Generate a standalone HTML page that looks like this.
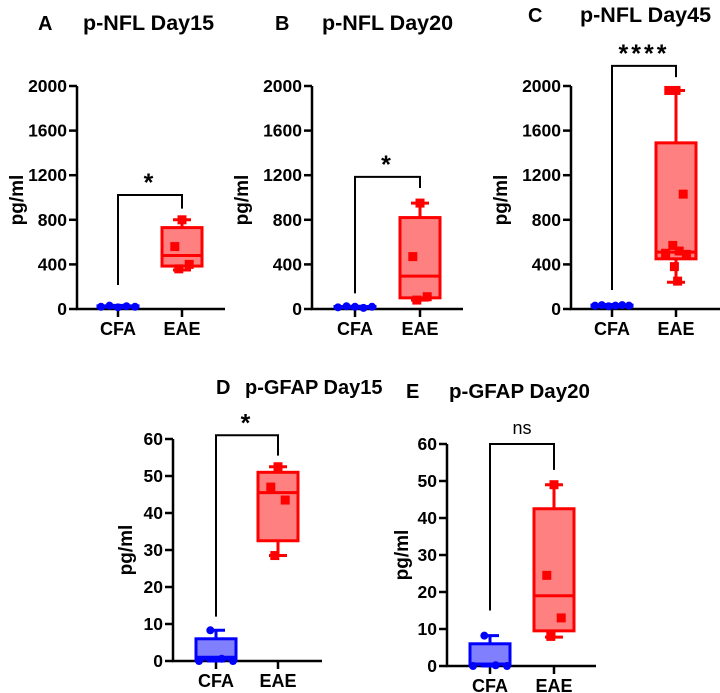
<!DOCTYPE html>
<html><head><meta charset="utf-8"><style>
body{margin:0;background:#fff;}
svg{display:block;font-family:"Liberation Sans",Arial,sans-serif;font-weight:bold;}
</style></head><body>
<svg id="fig" width="720" height="693" viewBox="0 0 720 693" xmlns="http://www.w3.org/2000/svg"></svg>
<script>
// ---- data ----
const categories = ["CFA","EAE"];
const nflTicks = [0,400,800,1200,1600,2000];
const gfapTicks = [0,10,20,30,40,50,60];
// box stats: [min, q1, median, q3, max]
const aCFA = [15,18,22,28,32];  const aCFApts = [20,30,15,25,20];
const aEAE = [350,385,480,730,800]; const aEAEpts = [800,560,400,360];
const bCFA = [10,14,18,22,25];  const bCFApts = [15,25,20,10,20];
const bEAE = [80,100,295,820,950]; const bEAEpts = [950,470,110,80];
const cCFA = [20,25,30,35,40];  const cCFApts = [30,35,25,30,35,30];
const cEAE = [240,450,510,1490,1960]; const cEAEpts = [1960,1960,1030,570,520,500,490,380,250];
const dCFA = [0,0.5,1,6,8.3]; const dCFApts = [0,8.3,0.6,0];
const dEAE = [28.5,32.5,45.5,51,52.5]; const dEAEpts = [52.5,47,43.5,28.5];
const eCFA = [0,0.5,0.5,6,8.2]; const eCFApts = [0,8.2,0.2,0];
const eEAE = [7.8,9.5,19,42.5,49]; const eEAEpts = [49,24.5,13,8];
const sigLabels = ["*","*","****","*","ns"];

const panels = [
 {id:"a",letter:"A",title:"p-NFL Day15",lx:38,tx:83,ty:30,ax:77,y0:309,y1:86,max:2000,ticks:nflTicks,xc:118,xe:182,xend:225,ylx:18,yly:200,fs:21.5,
  cfa:aCFA,cfaP:aCFApts,eae:aEAE,eaeP:aEAEpts,br:[1022,215,900],sig:sigLabels[0]},
 {id:"b",letter:"B",title:"p-NFL Day20",lx:275,tx:322,ty:30,ax:312,y0:309,y1:86,max:2000,ticks:nflTicks,xc:355,xe:420,xend:463,ylx:243,yly:200,fs:21.5,
  cfa:bCFA,cfaP:bCFApts,eae:bEAE,eaeP:bEAEpts,br:[1185,140,1085],sig:sigLabels[1]},
 {id:"c",letter:"C",title:"p-NFL Day45",lx:528,tx:580,ty:22,ax:571,y0:309,y1:86,max:2000,ticks:nflTicks,xc:612,xe:676,xend:720,ylx:502,yly:200,fs:21.5,
  cfa:cCFA,cfaP:cCFApts,eae:cEAE,eaeP:cEAEpts,br:[2180,170,2080],sig:sigLabels[2]},
 {id:"d",letter:"D",title:"p-GFAP Day15",lx:216,tx:245,ty:394,ax:173,y0:661,y1:439,max:60,ticks:gfapTicks,xc:216,xe:278,xend:322,ylx:127,yly:550,fs:20,
  cfa:dCFA,cfaP:dCFApts,eae:dEAE,eaeP:dEAEpts,br:[61,12,55.5],sig:sigLabels[3]},
 {id:"e",letter:"E",title:"p-GFAP Day20",lx:406,tx:449,ty:398,ax:447,y0:666,y1:444,max:60,ticks:gfapTicks,xc:490,xe:554,xend:596,ylx:403,yly:555,fs:20.5,
  cfa:eCFA,cfaP:eCFApts,eae:eEAE,eaeP:eEAEpts,br:[60,15,53],sig:sigLabels[4]}
];

const NS="http://www.w3.org/2000/svg";
const svg=document.getElementById("fig");
function mk(tag,attrs,parent,text){const e=document.createElementNS(NS,tag);for(const k in attrs)e.setAttribute(k,attrs[k]);if(text!==undefined)e.textContent=text;(parent||svg).appendChild(e);return e;}

panels.forEach(p=>{
  const g=mk("g",{});
  
  
  const Y=v=>p.y0-(v/p.max)*(p.y0-p.y1);
  let t=mk("text",{x:p.lx,y:p.ty,"font-size":20},g,p.letter);
  
  
  t=mk("text",{x:p.tx,y:p.ty,"font-size":p.fs},g,p.title);
  
  
  t=mk("text",{x:p.ylx,y:p.yly,"font-size":19,"text-anchor":"middle",transform:`rotate(-90 ${p.ylx} ${p.yly})`,"dominant-baseline":"middle"},g,"pg/ml");
  
  
  let l=mk("path",{d:`M${p.ax} ${p.y1}V${p.y0}H${p.xend}`,stroke:"#000","stroke-width":2.5,fill:"none"},g);
  
  
  p.ticks.forEach(v=>{
    mk("line",{x1:p.ax-8,x2:p.ax,y1:Y(v),y2:Y(v),stroke:"#000","stroke-width":2.5},g);
    const tt=mk("text",{x:p.ax-10,y:Y(v)+6,"font-size":17.5,"text-anchor":"end"},g,String(v));
    
    
  });
  [p.xc,p.xe].forEach((x,i)=>{
    mk("line",{x1:x,x2:x,y1:p.y0,y2:p.y0+8,stroke:"#000","stroke-width":2.5},g);
    const tt=mk("text",{x:x,y:p.y0+26,"font-size":18,"text-anchor":"middle"},g,categories[i]);
    
    
  });
  [[p.cfa,p.cfaP,p.xc,"#0000ff","#8080ff","cfa",true],[p.eae,p.eaeP,p.xe,"#ff0000","#ff8080","eae",false]].forEach(([s,pts,x,c,f,nm,circ])=>{
    const bg=mk("g",{},g);
    
    
    const hw=20;
    mk("line",{x1:x,x2:x,y1:Y(s[0]),y2:Y(s[4]),stroke:c,"stroke-width":3},bg);
    mk("line",{x1:x-9,x2:x+9,y1:Y(s[0]),y2:Y(s[0]),stroke:c,"stroke-width":3},bg);
    mk("line",{x1:x-9,x2:x+9,y1:Y(s[4]),y2:Y(s[4]),stroke:c,"stroke-width":3},bg);
    mk("rect",{x:x-hw,y:Y(s[3]),width:2*hw,height:Math.max(1,Y(s[1])-Y(s[3])),fill:f,stroke:c,"stroke-width":3},bg);
    mk("line",{x1:x-hw,x2:x+hw,y1:Y(s[2]),y2:Y(s[2]),stroke:c,"stroke-width":3},bg);
    const n=pts.length;
    const offs=[0,-9,9,-4,4,-13,13,-2,2];
    pts.forEach((v,i)=>{
      let px;
      if(circ) px=x+(n>1?(i-(n-1)/2)*(34/(n-1)):0);
      else px=x+offs[i%offs.length]*0.8;
      let m;
      if(circ) m=mk("circle",{cx:px,cy:Y(v),r:4,fill:c},bg);
      else m=mk("rect",{x:px-4.5,y:Y(v)-4.5,width:9,height:9,fill:c},bg);
      
      
    });
  });
  const [top,lb,rb]=p.br;
  l=mk("path",{d:`M${p.xc} ${Y(lb)}V${Y(top)}H${p.xe}V${Y(rb)}`,stroke:"#000","stroke-width":2,fill:"none"},g);
  
  
  const isStar=p.sig!=="ns";
  t=mk("text",{x:(p.xc+p.xe)/2,y:Y(top)-(isStar?4:10),"font-size":isStar?25:18,"font-weight":isStar?"bold":"normal","text-anchor":"middle","letter-spacing":isStar?3:0},g,p.sig);
  
  
});
</script>
</body></html>
